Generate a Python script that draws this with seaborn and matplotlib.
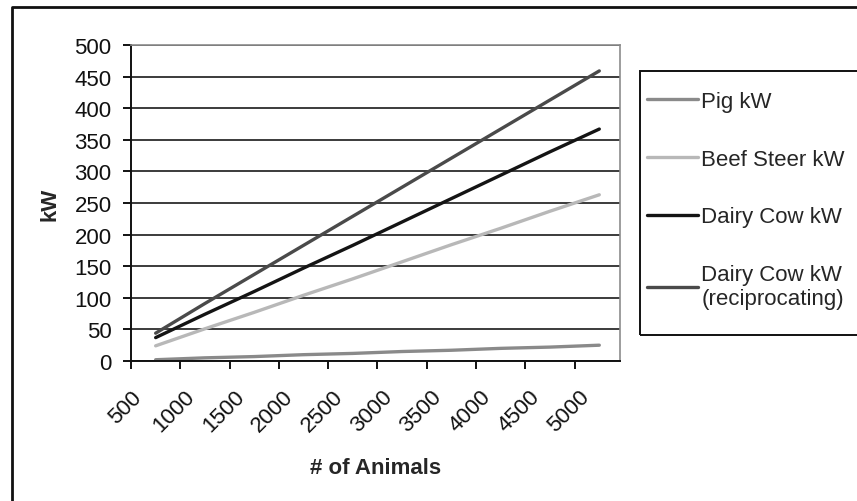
import matplotlib
matplotlib.use("Agg")
import pandas as pd
import matplotlib.pyplot as plt
import seaborn as sns
from matplotlib.lines import Line2D
from matplotlib.patches import Rectangle
from matplotlib.transforms import ScaledTranslation

# Herd size and generating capacity per livestock type
animals = [750, 1250, 1750, 2250, 2750, 3250, 3750, 4250, 4750, 5250]
pig_kw = [2, 5, 7, 10, 12, 15, 17, 20, 22, 25]
beef_steer_kw = [24, 51, 77, 104, 130, 157, 184, 210, 237, 263]
dairy_cow_kw = [37, 74, 110, 147, 183, 220, 257, 294, 331, 367]
dairy_cow_recip_kw = [44, 91, 137, 183, 229, 275, 321, 367, 413, 459]

series_names = ["Pig kW", "Beef Steer kW", "Dairy Cow kW",
                "Dairy Cow kW\n(reciprocating)"]
series_colors = ["#8a8a8a", "#b8b8b8", "#141414", "#4a4a4a"]
x_ticks = list(range(500, 5001, 500))
y_ticks = list(range(0, 501, 50))

df = pd.DataFrame({
    "animals": animals * 4,
    "kw": pig_kw + beef_steer_kw + dairy_cow_kw + dairy_cow_recip_kw,
    "series": [n for n in series_names for _ in animals],
})

sns.set_style("white")
plt.rcParams["font.family"] = ["Liberation Sans", "DejaVu Sans"]

W, H = 857, 502
fig = plt.figure(figsize=(W / 100, H / 100), dpi=100)
ax = fig.add_axes([131 / W, 1 - 362 / H, (620 - 131) / W, (362 - 46) / H])

palette = dict(zip(series_names, series_colors))
sns.lineplot(data=df, x="animals", y="kw", hue="series", hue_order=series_names,
             palette=palette, linewidth=2.4, ax=ax, legend=False, sort=False)

ax.set_xlim(500, 5460)
ax.set_ylim(0, 500)
ax.set_xticks(x_ticks)
ax.set_yticks(y_ticks)
ax.set_xticklabels([str(v) for v in x_ticks], rotation=45, ha="center", va="top")
ax.set_yticklabels([str(v) for v in y_ticks])

# horizontal gridlines
ax.yaxis.grid(True, color="#1a1a1a", linewidth=1.2)
ax.xaxis.grid(False)
ax.set_axisbelow(True)

for side in ["left", "bottom"]:
    ax.spines[side].set_color("#111111")
    ax.spines[side].set_linewidth(1.4)
for side in ["top", "right"]:
    ax.spines[side].set_visible(True)
    ax.spines[side].set_color("#8c8c8c")
    ax.spines[side].set_linewidth(1.2)

ax.tick_params(axis="both", which="major", direction="out", length=6,
               width=1.4, color="#111111", labelsize=16, labelcolor="#111111")
ax.tick_params(axis="x", pad=12, bottom=True)
ax.tick_params(axis="y", pad=8, left=True)
for lab in ax.get_xticklabels():
    lab.set_transform(lab.get_transform() +
                      ScaledTranslation(-0.06, 0, fig.dpi_scale_trans))

ax.set_xlabel("# of Animals", fontsize=16, fontweight="bold", labelpad=15)
ax.set_ylabel("kW", fontsize=16, fontweight="bold", labelpad=10)

# legend
handles = [Line2D([], [], color=c, linewidth=2.4) for c in series_colors]
fig.legend(handles, series_names, loc="upper left",
           bbox_to_anchor=(647 / W, 1 - 92 / H), frameon=False, fontsize=16,
           handlelength=2.3, handletextpad=0.15, labelspacing=1.65,
           borderaxespad=0, borderpad=0)
fig.add_artist(Rectangle((640 / W, 1 - 336 / H), 240 / W, (336 - 72) / H,
                         transform=fig.transFigure, fill=False,
                         edgecolor="#111111", linewidth=1.4, clip_on=False))

# outer chart frame
fig.add_artist(Line2D([12 / W, 12 / W, 1.01], [0, 1 - 8 / H, 1 - 8 / H],
                      transform=fig.transFigure, color="#111111",
                      linewidth=2.0))

fig.savefig("out.png", dpi=100)
